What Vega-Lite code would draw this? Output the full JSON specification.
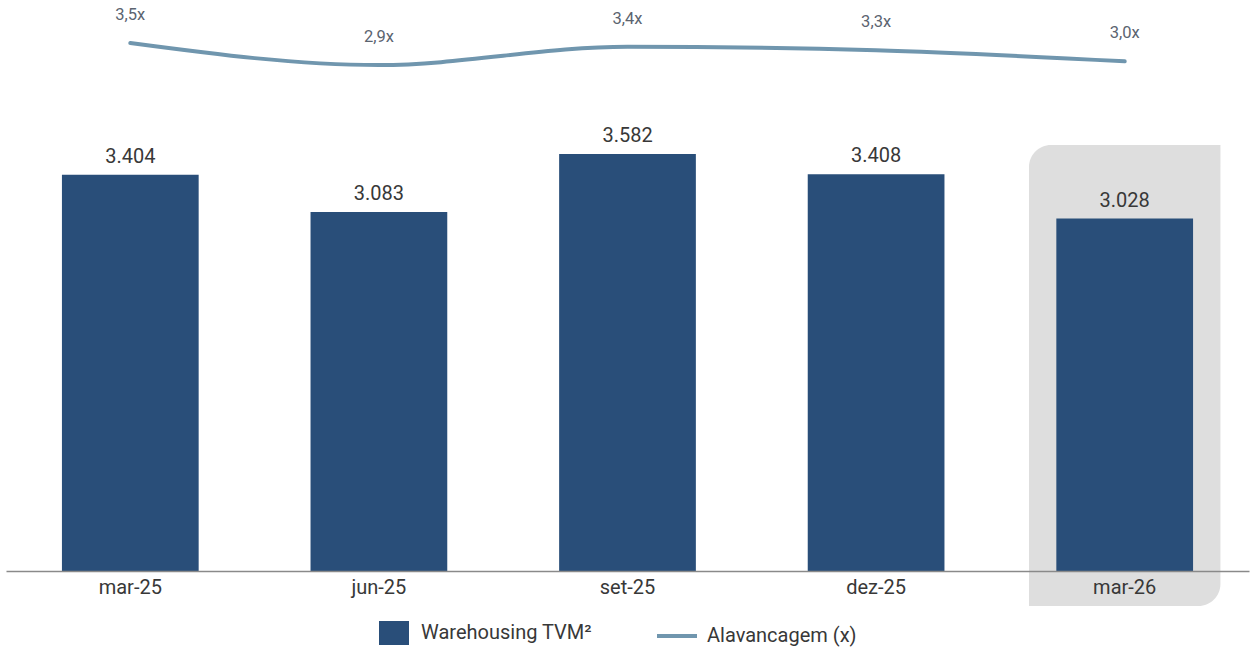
{
  "$schema": "https://vega.github.io/schema/vega-lite/v6.json",
  "width": 1243,
  "height": 571,
  "autosize": "none",
  "padding": {"left": 6, "top": 0, "right": 3, "bottom": 77},
  "background": "#ffffff",
  "config": {
    "view": {"stroke": null},
    "font": "Roboto",
    "text": {"font": "Roboto"}
  },
  "datasets": {
    "main": [
      {"mes": "mar-25", "tvm": 3.404, "alav": 3.5},
      {"mes": "jun-25", "tvm": 3.083, "alav": 2.9},
      {"mes": "set-25", "tvm": 3.582, "alav": 3.4},
      {"mes": "dez-25", "tvm": 3.408, "alav": 3.3},
      {"mes": "mar-26", "tvm": 3.028, "alav": 3.0}
    ],
    "hl": [
      {"mes": "mar-26", "top": 3.66, "bottom": -0.30}
    ]
  },
  "layer": [
    {
      "data": {"name": "hl"},
      "mark": {"type": "bar", "color": "#dedede", "width": {"band": 1.4}, "cornerRadiusTopLeft": 22, "cornerRadiusBottomRight": 22},
      "encoding": {
        "x": {"field": "mes", "type": "nominal", "sort": ["mar-25", "jun-25", "set-25", "dez-25", "mar-26"], "scale": {"domain": ["mar-25", "jun-25", "set-25", "dez-25", "mar-26"], "paddingInner": 0.45, "paddingOuter": 0.225}, "axis": {"title": null, "labelAngle": 0, "labelFontSize": 20, "labelColor": "#383838", "labelFont": "Roboto", "ticks": false, "domainColor": "#8a8a8a", "domainWidth": 1.5, "labelPadding": 6, "zindex": 1}},
        "y": {"field": "top", "type": "quantitative", "scale": {"domain": [0, 4.905], "nice": false, "zero": false}, "axis": null},
        "y2": {"field": "bottom"}
      }
    },
    {
      "data": {"name": "main"},
      "mark": {"type": "bar"},
      "encoding": {
        "x": {"field": "mes", "type": "nominal", "sort": ["mar-25", "jun-25", "set-25", "dez-25", "mar-26"]},
        "y": {"field": "tvm", "type": "quantitative", "scale": {"domain": [0, 4.905], "nice": false}, "axis": null},
        "color": {"datum": "Warehousing TVM²", "scale": {"range": ["#294e79"]}, "legend": {"title": null, "orient": "none", "legendX": 375, "legendY": 620, "labelFontSize": 20, "labelColor": "#383838", "labelFont": "Roboto", "labelLimit": 400, "symbolType": "M-1.25,-1L1.25,-1L1.25,1L-1.25,1Z", "symbolSize": 576, "symbolOpacity": 1, "labelOffset": 14}}
      }
    },
    {
      "data": {"name": "main"},
      "mark": {"type": "text", "baseline": "bottom", "dy": -8, "fontSize": 20, "color": "#383838", "font": "Roboto"},
      "encoding": {
        "x": {"field": "mes", "type": "nominal", "sort": ["mar-25", "jun-25", "set-25", "dez-25", "mar-26"]},
        "y": {"field": "tvm", "type": "quantitative", "scale": {"domain": [0, 4.905], "nice": false}, "axis": null},
        "text": {"field": "tvm", "type": "quantitative", "format": ".3f"}
      }
    },
    {
      "data": {"name": "main"},
      "mark": {"type": "line", "interpolate": "monotone", "strokeWidth": 4, "strokeCap": "round"},
      "encoding": {
        "x": {"field": "mes", "type": "nominal", "sort": ["mar-25", "jun-25", "set-25", "dez-25", "mar-26"]},
        "y": {"field": "alav", "type": "quantitative", "scale": {"domain": [-10.9, 4.673], "nice": false, "zero": false}, "axis": null},
        "stroke": {"datum": "Alavancagem (x)", "scale": {"range": ["#7096ae"]}, "legend": {"title": null, "orient": "none", "legendX": 649, "legendY": 614, "labelFontSize": 20, "labelColor": "#383838", "labelFont": "Roboto", "labelLimit": 400, "symbolType": "stroke", "symbolSize": 1600, "symbolStrokeWidth": 4, "labelOffset": 8}}
      }
    },
    {
      "data": {"name": "main"},
      "transform": [{"calculate": "replace(format(datum.alav, '.1f'), '.', ',') + 'x'", "as": "lbl"}],
      "mark": {"type": "text", "baseline": "bottom", "dy": -20, "fontSize": 16.5, "color": "#5b6470", "font": "Roboto"},
      "encoding": {
        "x": {"field": "mes", "type": "nominal", "sort": ["mar-25", "jun-25", "set-25", "dez-25", "mar-26"]},
        "y": {"field": "alav", "type": "quantitative", "scale": {"domain": [-10.9, 4.673], "nice": false, "zero": false}, "axis": null},
        "text": {"field": "lbl"}
      }
    }
  ],
  "resolve": {"scale": {"y": "independent"}}
}
